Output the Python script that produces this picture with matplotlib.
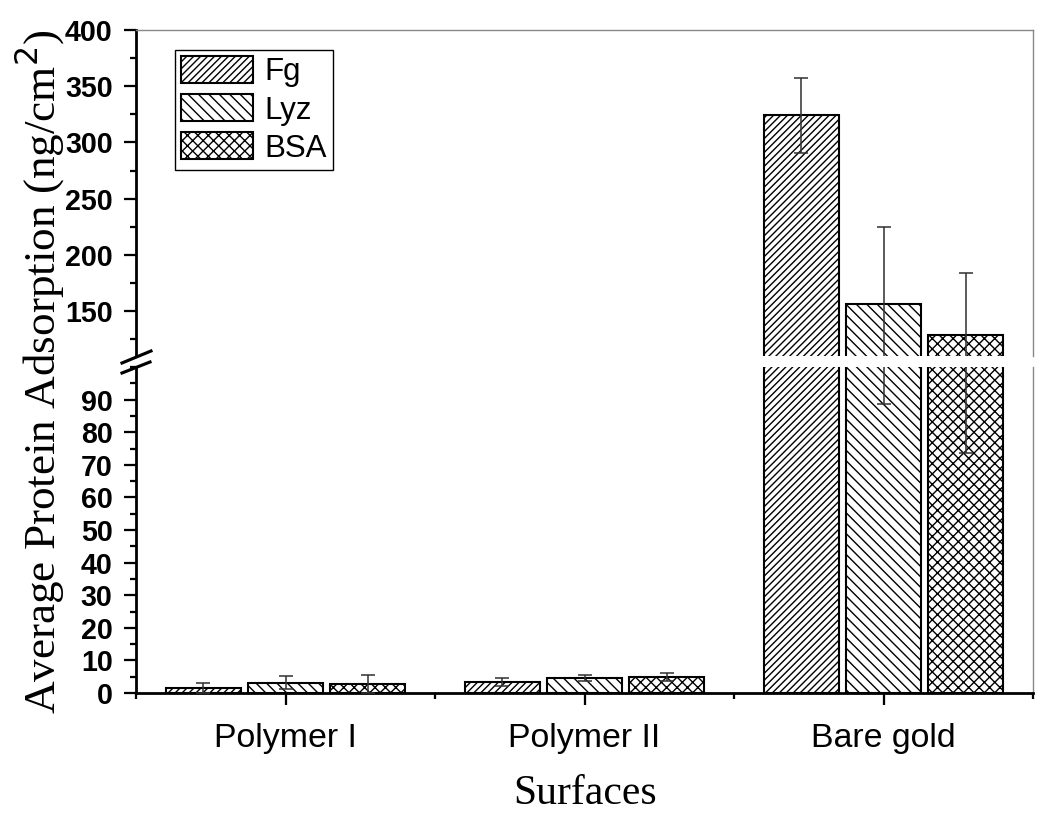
import numpy as np
import matplotlib
matplotlib.use("Agg")
import matplotlib.pyplot as plt
from matplotlib.lines import Line2D
from matplotlib.ticker import MultipleLocator, FixedLocator

# values (ng/cm^2)
surfaces = ["Polymer I", "Polymer II", "Bare gold"]
proteins = ["Fg", "Lyz", "BSA"]
fg = [1.6, 3.5, 324.0]
fg_err = [1.5, 1.2, 33.0]
lyz = [3.2, 4.6, 156.5]
lyz_err = [2.0, 1.0, 68.0]
bsa = [2.8, 4.9, 128.5]
bsa_err = [2.7, 1.3, 55.0]

means = [fg, lyz, bsa]
errs = [fg_err, lyz_err, bsa_err]
hatches = ["//////", "\\\\\\\\", "xxxx"]

plt.rcParams["hatch.linewidth"] = 0.8
sans = "Liberation Sans"
serif = "Liberation Serif"

W, H = 1050, 822
DPI = 125
fig = plt.figure(figsize=(W / DPI, H / DPI), dpi=DPI)

def fx(px):
    return px / W

def fy(py):
    return 1 - py / H

left, right = 136, 1033
ax_lo = fig.add_axes([fx(left), fy(693), fx(right - left), (693 - 367) / H])
ax_hi = fig.add_axes([fx(left), fy(356), fx(right - left), (356 - 30) / H])

x = np.arange(len(surfaces))
width = 0.25
offsets = [-0.275, 0.0, 0.275]

for ax in (ax_lo, ax_hi):
    for i in range(3):
        ax.bar(x + offsets[i], means[i], width, color="white", edgecolor="black",
               linewidth=1.2, hatch=hatches[i], label=proteins[i], zorder=2)
        ax.errorbar(x + offsets[i], means[i], yerr=errs[i], fmt="none",
                    ecolor="#333333", elinewidth=0.9, capsize=4, capthick=0.9,
                    zorder=3)
    ax.set_xlim(-0.5, 2.5)

ax_lo.set_ylim(0, 100)
ax_hi.set_ylim(110, 400)

# lower axis styling
ax_lo.yaxis.set_major_locator(FixedLocator(np.arange(0, 91, 10)))
ax_lo.yaxis.set_minor_locator(MultipleLocator(5))
ax_lo.xaxis.set_major_locator(FixedLocator(x))
ax_lo.xaxis.set_minor_locator(FixedLocator([-0.5, 0.5, 1.5, 2.5]))
ax_lo.set_xticklabels(surfaces, fontsize=19.5, family=sans)
ax_lo.spines["top"].set_visible(False)
ax_lo.spines["right"].set_color("#888888")
ax_lo.spines["right"].set_linewidth(0.8)
ax_lo.spines["left"].set_linewidth(1.6)
ax_lo.spines["bottom"].set_linewidth(1.6)
ax_lo.tick_params(axis="x", which="major", direction="out", length=7, width=1.3, pad=10)
ax_lo.tick_params(axis="x", which="minor", direction="out", length=3.5, width=1.3)

# upper axis styling
ax_hi.yaxis.set_major_locator(FixedLocator(np.arange(150, 401, 50)))
ax_hi.yaxis.set_minor_locator(FixedLocator(np.arange(125, 400, 50)))
ax_hi.set_xticks([])
ax_hi.spines["bottom"].set_visible(False)
for s in ("top", "right"):
    ax_hi.spines[s].set_color("#888888")
    ax_hi.spines[s].set_linewidth(0.8)
ax_hi.spines["left"].set_linewidth(1.6)

for ax in (ax_lo, ax_hi):
    ax.tick_params(axis="y", which="major", direction="out", length=7, width=1.3, pad=6.5)
    ax.tick_params(axis="y", which="minor", direction="out", length=3.5, width=1.3)
    for lab in ax.get_yticklabels():
        lab.set_fontsize(16.5)
        lab.set_fontweight("bold")
        lab.set_family(sans)

# break marks on the left spine
for (x0, y0, x1, y1) in [(122, 363, 151, 351), (122, 373, 150, 362)]:
    fig.add_artist(Line2D([fx(x0), fx(x1)], [fy(y0), fy(y1)], color="black", lw=1.8))

# legend
ax_hi.legend(loc="upper left", bbox_to_anchor=(fx(175), fy(50)),
             bbox_transform=fig.transFigure, borderaxespad=0, fancybox=False,
             edgecolor="black", framealpha=1, prop={"family": sans, "size": 18},
             handlelength=2.3, handleheight=0.95, labelspacing=0.22,
             handletextpad=0.35, borderpad=0.2)
ax_hi.get_legend().get_frame().set_linewidth(0.8)

fig.text(fx(40), fy(372), "Average Protein Adsorption (ng/cm$^{2}$)", rotation=90,
         ha="center", va="center", fontsize=26, family=serif)
fig.text(fx(585), fy(794), "Surfaces", ha="center", va="center", fontsize=24, family=serif)

fig.savefig("out.png", dpi=DPI)
